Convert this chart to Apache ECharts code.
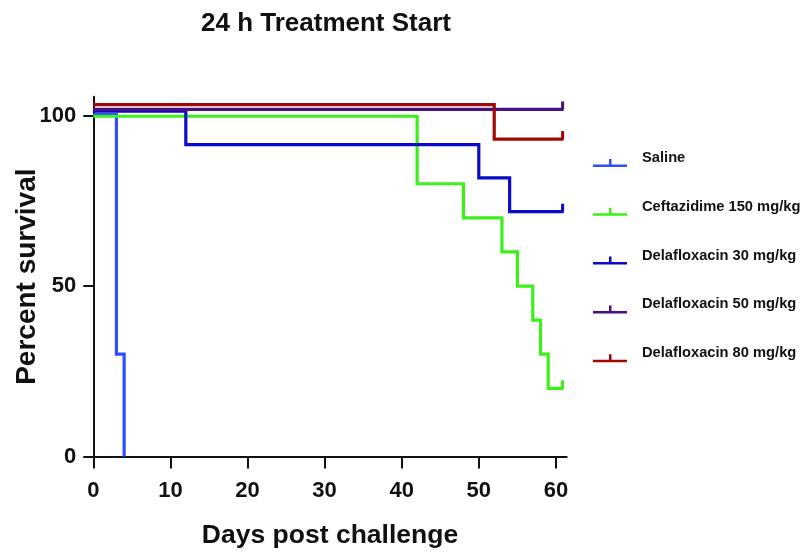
<!DOCTYPE html>
<html>
<head>
<meta charset="utf-8">
<script src="https://cdn.jsdelivr.net/npm/echarts@6/dist/echarts.min.js"></script>
<style>html,body{margin:0;padding:0;background:#fff;}#c{width:810px;height:558px;}</style>
</head>
<body>
<div id="c"></div>
<script>
const titleText = '24 h Treatment Start';
const xName = 'Days post challenge';
const yName = 'Percent survival';
const xTicks = [0, 10, 20, 30, 40, 50, 60];
const yTicks = [0, 50, 100];
const seriesNames = ['Saline', 'Ceftazidime 150 mg/kg', 'Delafloxacin 30 mg/kg', 'Delafloxacin 50 mg/kg', 'Delafloxacin 80 mg/kg'];
const seriesColors = ['#2f4dff', '#3cf01a', '#0a0ac8', '#4a0f80', '#a00808'];
const salineDays = [0, 3, 4];
const salinePct = [100.3, 30, 0];
const ceftDays = [0, 42, 48, 53, 55, 57, 58, 59, 61];
const ceftPct = [99.8, 80, 70, 60, 50, 40, 30, 20, 20];
const dela30Days = [0, 12, 50, 54, 61];
const dela30Pct = [101.3, 91.5, 81.7, 71.8, 71.8];
const dela50Days = [0, 61];
const dela50Pct = [101.8, 101.8];
const dela80Days = [0, 52, 61];
const dela80Pct = [103.2, 93.1, 93.1];
const censored = [false, true, true, true, true];

const allDays = [salineDays, ceftDays, dela30Days, dela50Days, dela80Days];
const allPct = [salinePct, ceftPct, dela30Pct, dela50Pct, dela80Pct];

const FONT = '"Liberation Sans", Arial, sans-serif';
const legendIcon = 'path://M17,0L17,0Z M0,15.5L34,15.5L34,18L0,18Z M16,10L18.5,10L18.5,16L16,16Z';

const series = seriesNames.map((name, s) => {
  const days = allDays[s], pct = allPct[s];
  const data = days.map((d, i) => {
    const item = { value: [d, pct[i]] };
    if (censored[s] && i === days.length - 1) {
      item.symbol = 'rect';
      item.symbolSize = [3, 8];
      item.symbolOffset = [-1, -4];
    }
    return item;
  });
  return {
    name: name,
    type: 'line',
    step: 'end',
    symbol: 'none',
    showSymbol: true,
    data: data,
    color: seriesColors[s],
    lineStyle: { width: 3.2, color: seriesColors[s], cap: 'butt', join: 'miter' },
    itemStyle: { color: seriesColors[s] },
    emphasis: { disabled: true },
    z: 2 + s,
    animation: false
  };
});

const chart = echarts.init(document.getElementById('c'), null, { renderer: 'canvas' });
chart.setOption({
  backgroundColor: '#ffffff',
  animation: false,
  title: {
    text: titleText,
    left: 201,
    top: 11,
    padding: 0,
    textStyle: { fontFamily: FONT, fontWeight: 'bold', fontSize: 26, color: '#111' }
  },
  legend: {
    orient: 'vertical',
    left: 593,
    top: 149,
    padding: 0,
    itemWidth: 34,
    itemHeight: 18,
    itemGap: 30.8,
    icon: legendIcon,
    selectedMode: false,
    data: seriesNames,
    textStyle: { fontFamily: FONT, fontWeight: 'bold', fontSize: 14.7, color: '#111', padding: [0, 0, 0, 10] }
  },
  grid: { left: 93.3, right: 243.3, top: 96.8, bottom: 101.5, containLabel: false, outerBoundsMode: 'none' },
  xAxis: {
    type: 'value',
    min: 0,
    max: 61.4,
    name: xName,
    nameLocation: 'middle',
    nameGap: 66,
    nameMoveOverlap: false,
    nameTextStyle: { fontFamily: FONT, fontWeight: 'bold', fontSize: 26.5, color: '#111' },
    axisLine: { show: true, onZero: false, lineStyle: { color: '#111', width: 2 } },
    axisTick: { show: true, length: 12, lineStyle: { color: '#111', width: 2 }, customValues: xTicks },
    axisLabel: { margin: 23, fontFamily: FONT, fontWeight: 'bold', fontSize: 22, color: '#111', customValues: xTicks },
    splitLine: { show: false }
  },
  yAxis: {
    type: 'value',
    min: 0,
    max: 105.5,
    name: yName,
    nameLocation: 'middle',
    nameRotate: 90,
    nameGap: 52,
    nameMoveOverlap: false,
    nameTextStyle: { fontFamily: FONT, fontWeight: 'bold', fontSize: 28, color: '#111' },
    axisLine: { show: true, onZero: false, lineStyle: { color: '#111', width: 2 } },
    axisTick: { show: true, length: 10, lineStyle: { color: '#111', width: 2 }, customValues: yTicks },
    axisLabel: { margin: 17, fontFamily: FONT, fontWeight: 'bold', fontSize: 22, color: '#111', customValues: yTicks },
    splitLine: { show: false }
  },
  series: series
});
</script>
</body>
</html>
